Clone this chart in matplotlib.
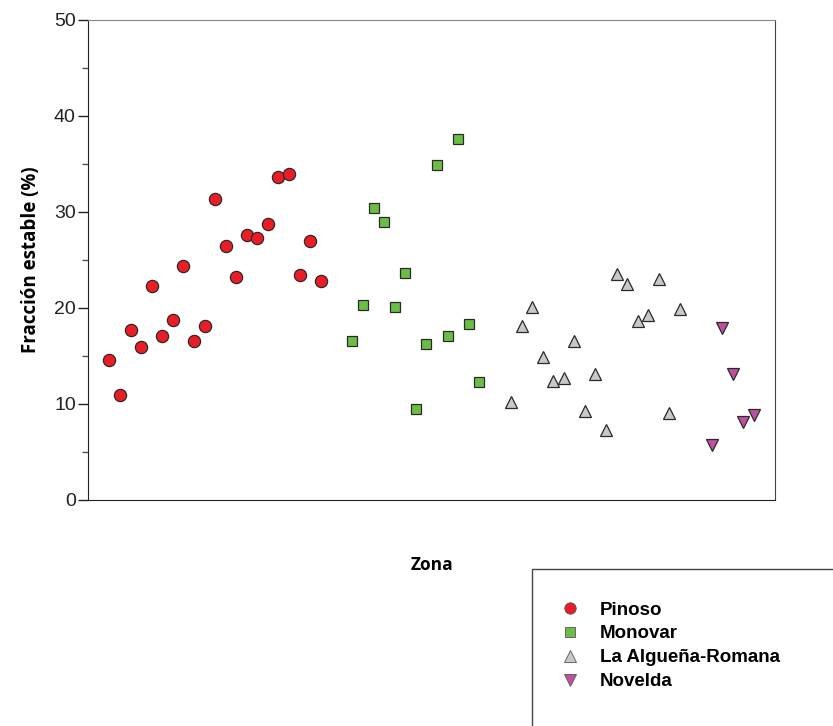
import numpy as np
import matplotlib.pyplot as plt
from matplotlib.patches import Rectangle
from matplotlib.ticker import MultipleLocator, NullLocator

plt.rcParams['font.family'] = ['Liberation Sans', 'DejaVu Sans']

# Fracción estable (%) por muestra, agrupadas por zona
pinoso = [14.6, 10.9, 17.7, 15.9, 22.3, 17.1, 18.7, 24.4, 16.5, 18.1, 31.3,
          26.4, 23.2, 27.6, 27.3, 28.7, 33.6, 33.9, 23.4, 27.0, 22.8]
monovar = [16.6, 20.3, 30.4, 28.9, 20.1, 23.6, 9.5, 16.2, 34.9, 17.1, 37.6,
           18.3, 12.3]
algueña = [10.2, 18.1, 20.1, 14.9, 12.4, 12.7, 16.6, 9.3, 13.1, 7.3, 23.5,
           22.5, 18.6, 19.3, 23.0, 9.1, 19.9]
novelda = [5.7, 17.9, 13.1, 8.1, 8.8]

zonas = ['Pinoso', 'Monovar', 'La Algueña-Romana', 'Novelda']
primera_muestra = [2, 25, 40, 59]

series = [pinoso, monovar, algueña, novelda]
marcadores = ['o', 's', '^', 'v']
colores = ['#ec1c24', '#6cbd45', '#c8c8c8', '#bf4fa3']
tamaños = [8.8, 7.4, 8.6, 8.6]

fig = plt.figure(figsize=(8.33, 7.26), dpi=100)
ax = fig.add_axes([0.106, 0.3113, 0.8245, 0.6616])

handles = []
for vals, x0, m, c, s, nombre in zip(series, primera_muestra, marcadores,
                                     colores, tamaños, zonas):
    x = np.arange(x0, x0 + len(vals))
    ax.plot(x, vals, linestyle='none', marker=m, markersize=s,
            markerfacecolor=c, markeredgecolor='#2a2a2a', markeredgewidth=0.9)
    h, = ax.plot([], [], linestyle='none', marker=m, markersize=s - 0.6,
                 markerfacecolor=c, markeredgecolor='#555555',
                 markeredgewidth=0.6, label=nombre)
    handles.append(h)

ax.set_xlim(0, 65)
ax.set_ylim(0, 50)
ax.xaxis.set_major_locator(NullLocator())
ax.yaxis.set_major_locator(MultipleLocator(10))
ax.yaxis.set_minor_locator(MultipleLocator(5))
ax.tick_params(axis='y', which='major', length=7, width=1, labelsize=14,
               colors='#222222', pad=2)
ax.tick_params(axis='y', which='minor', length=4, width=1, color='#555555')

ax.spines['left'].set_color('#222222')
ax.spines['bottom'].set_color('#222222')
ax.spines['top'].set_color('#888888')
ax.spines['right'].set_color('#444444')

ax.set_ylabel('Fracción estable (%)', fontsize=13.5, fontweight='bold',
              family='Open Sans', labelpad=9)
ax.set_xlabel('Zona', fontsize=12.5, fontweight='bold', family='Open Sans',
              labelpad=40)

# Recuadro de la leyenda, cortado por el borde de la figura
fig.patches.append(Rectangle((532 / 833, -0.05), 0.5, 1 - 569 / 726 + 0.05,
                             transform=fig.transFigure, fill=False,
                             edgecolor='#444444', linewidth=1))
fig.legend(handles=handles, loc='upper left',
           bbox_to_anchor=(553 / 833, 1 - 594 / 726), frameon=False,
           prop={'weight': 'bold', 'size': 13.5}, handletextpad=1.1,
           labelspacing=0.36, borderaxespad=0, handlelength=1.0)

fig.savefig('out.png', dpi=100)
